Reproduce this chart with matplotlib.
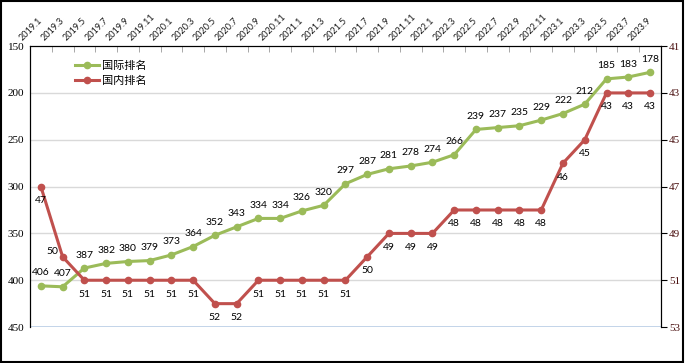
import matplotlib.pyplot as plt
import matplotlib.transforms as mtransforms
from matplotlib.patches import Rectangle

plt.rcParams['font.family'] = ['Lato', 'Noto Sans CJK SC', 'DejaVu Sans']

# 月份标签
months = ['2019.1', '2019.3', '2019.5', '2019.7', '2019.9', '2019.11',
          '2020.1', '2020.3', '2020.5', '2020.7', '2020.9', '2020.11',
          '2021.1', '2021.3', '2021.5', '2021.7', '2021.9', '2021.11',
          '2022.1', '2022.3', '2022.5', '2022.7', '2022.9', '2022.11',
          '2023.1', '2023.3', '2023.5', '2023.7', '2023.9']
intl_rank = [406, 407, 387, 382, 380, 379, 373, 364, 352, 343, 334, 334, 326, 320,
             297, 287, 281, 278, 274, 266, 239, 237, 235, 229, 222, 212, 185, 183, 178]
dom_rank = [47, 50, 51, 51, 51, 51, 51, 51, 52, 52, 51, 51, 51, 51, 51,
            50, 49, 49, 49, 48, 48, 48, 48, 48, 46, 45, 43, 43, 43]

green = '#9BBB59'
red = '#C0504D'

fig = plt.figure(figsize=(6.85, 3.63), dpi=100)
ax = fig.add_axes([0.0438, 0.099, 0.921, 0.774])
ax2 = ax.twinx()

x = list(range(len(months)))

ax.plot(x, intl_rank, color=green, lw=2.2, marker='o', ms=4.5, label='国际排名', zorder=3)
ax2.plot(x, dom_rank, color=red, lw=2.2, marker='o', ms=4.5, label='国内排名', zorder=3)

ax.set_xlim(-0.5, len(months) - 0.5)
ax.set_ylim(450, 150)
ax2.set_ylim(53, 41)
ax.set_yticks(range(150, 451, 50))
ax2.set_yticks(range(41, 54, 2))

for v in range(200, 450, 50):
    ax.axhline(v, color='#D9D9D9', lw=1, zorder=0)
ax.axhline(450, color='#B9CDE5', lw=1.2, zorder=0)

# 数据标签
for i, v in enumerate(intl_rank):
    ax.annotate(str(v), (i, v), xytext=(0, 13), textcoords='offset pixels',
                ha='center', va='center', fontsize=7.5, color='black')
for i, v in enumerate(dom_rank):
    off = (-10, 5) if i == 1 else (0, -14)
    ax2.annotate(str(v), (i, v), xytext=off, textcoords='offset pixels',
                 ha='center', va='center', fontsize=7.5, color='black')

# 顶部类别轴（斜排标签）
ax.set_xticks(x)
ax.set_xticklabels([])
ax.set_xticks([i - 0.5 for i in range(len(months) + 1)], minor=True)
ax.tick_params(axis='x', which='both', bottom=False, top=True)
ax.tick_params(axis='x', which='major', length=0)
ax.tick_params(axis='x', which='minor', length=4, direction='in', color='#999999')
shift = mtransforms.ScaledTranslation(-18 / 100, 5 / 100, fig.dpi_scale_trans)
for i, m in enumerate(months):
    ax.text(i, 1.0, m, transform=ax.get_xaxis_transform() + shift, rotation=45,
            rotation_mode='anchor', ha='left', va='baseline', fontsize=6.5, color='#1a1a1a')

ax.tick_params(axis='y', labelsize=8, length=0, pad=4)
ax2.tick_params(axis='y', labelsize=8, length=4, direction='out', labelcolor='#4A1010', pad=2)
for lab in ax.get_yticklabels() + ax2.get_yticklabels():
    lab.set_family('Liberation Serif')

for a in (ax, ax2):
    a.spines['bottom'].set_visible(False)
    for s in ('left', 'right', 'top'):
        a.spines[s].set_color('black')

h1, l1 = ax.get_legend_handles_labels()
h2, l2 = ax2.get_legend_handles_labels()
ax.legend(h1 + h2, l1 + l2, loc='upper left', bbox_to_anchor=(0.055, 0.985), frameon=False,
          fontsize=8, handlelength=2.2, handletextpad=0.3, labelspacing=0.3)

fig.patches.append(Rectangle((0.002, 0.003), 0.995, 0.994, transform=fig.transFigure,
                             fill=False, edgecolor='black', lw=1.5))

fig.savefig('out.png', dpi=100)
